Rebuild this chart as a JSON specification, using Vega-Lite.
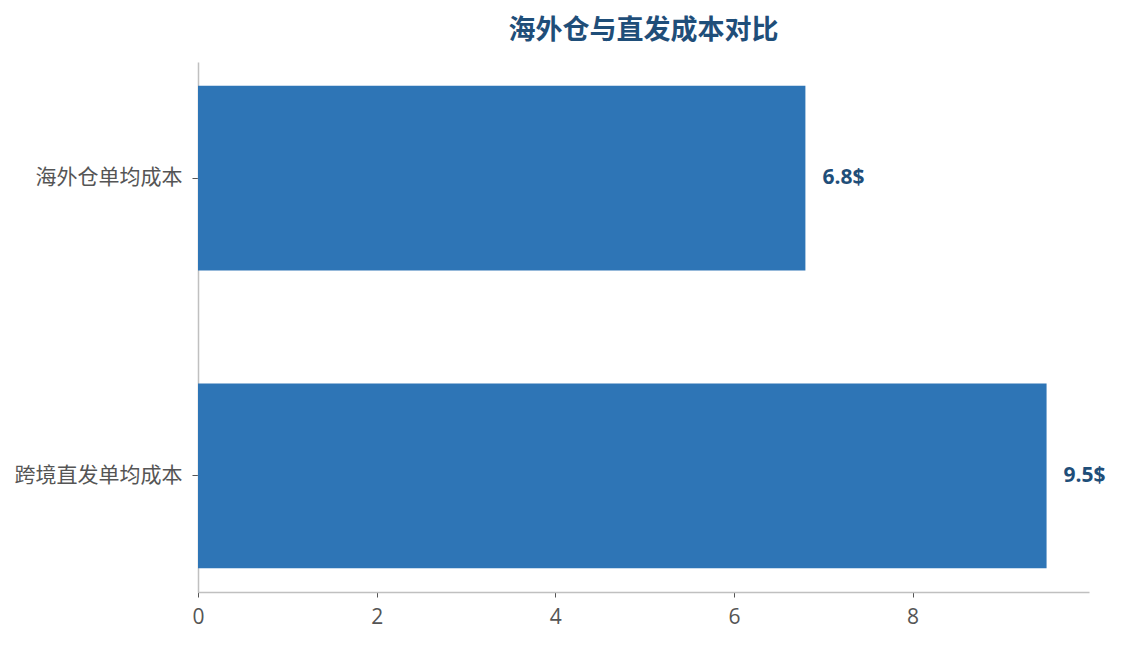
{
  "$schema": "https://vega.github.io/schema/vega-lite/v6.json",
  "width": 891,
  "height": 530,
  "autosize": {"type": "none"},
  "padding": {"left": 198, "top": 62, "right": 35, "bottom": 53},
  "background": "white",
  "title": {
    "text": "海外仓与直发成本对比",
    "font": "Noto Sans CJK SC",
    "fontSize": 27,
    "fontWeight": "bold",
    "color": "#1f4e79",
    "anchor": "middle",
    "offset": 17
  },
  "data": {
    "values": [
      {"category": "海外仓单均成本", "cost": 6.8, "label": "6.8$"},
      {"category": "跨境直发单均成本", "cost": 9.5, "label": "9.5$"}
    ]
  },
  "encoding": {
    "y": {
      "field": "category",
      "type": "nominal",
      "sort": null,
      "title": null,
      "scale": {"paddingInner": 0.38, "paddingOuter": 0.08},
      "axis": {
        "domainColor": "#c0c0c0",
        "domainWidth": 1.5,
        "tickColor": "#555555",
        "tickSize": 6,
        "labelFont": "Noto Sans CJK SC",
        "labelFontSize": 21,
        "labelColor": "#555555",
        "labelPadding": 10
      }
    },
    "x": {
      "field": "cost",
      "type": "quantitative",
      "title": null,
      "scale": {"domain": [0, 9.975], "nice": false},
      "axis": {
        "values": [0, 2, 4, 6, 8],
        "grid": false,
        "labelFlush": false,
        "domainColor": "#c0c0c0",
        "domainWidth": 1.5,
        "tickColor": "#555555",
        "tickSize": 5,
        "labelFont": "Open Sans",
        "labelFontSize": 21,
        "labelColor": "#555555",
        "labelPadding": 9
      }
    }
  },
  "layer": [
    {"mark": {"type": "bar", "color": "#2e75b6"}},
    {
      "mark": {
        "type": "text",
        "align": "left",
        "baseline": "middle",
        "dx": 17,
        "font": "Open Sans",
        "fontSize": 21,
        "fontWeight": "bold",
        "color": "#1f4e79"
      },
      "encoding": {"text": {"field": "label"}}
    }
  ],
  "config": {"view": {"stroke": null}}
}
